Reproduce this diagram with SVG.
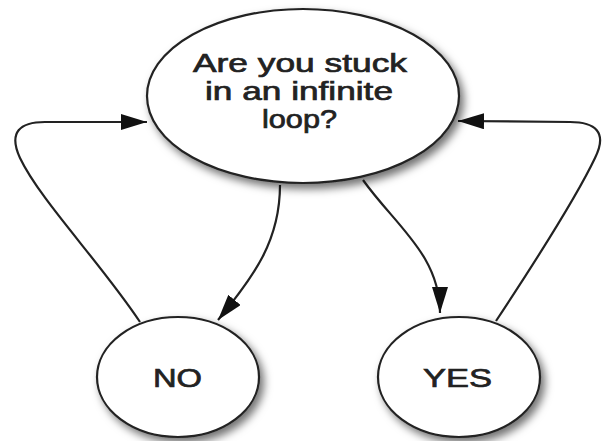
<svg xmlns="http://www.w3.org/2000/svg" width="608" height="441" viewBox="0 0 608 441">
  <defs>
    <filter id="shadow" x="-20%" y="-20%" width="150%" height="150%">
      <feDropShadow dx="4" dy="5" stdDeviation="4" flood-color="#000" flood-opacity="0.55"/>
    </filter>
    <marker id="arrowBig" viewBox="0 0 26 16" refX="26" refY="8" markerWidth="26" markerHeight="16" markerUnits="userSpaceOnUse" orient="auto">
      <path d="M0,0 L26,8 L0,16 Z" fill="#111"/>
    </marker>
  </defs>
  <style>
    .node { fill: #fff; stroke: #222; stroke-width: 2.2; filter: url(#shadow); }
    .label { font-family: "Liberation Sans", Arial, sans-serif; font-size: 26px; fill: #222; stroke: #222; stroke-width: 0.7; text-anchor: start; }
    .edge { fill: none; stroke: #222; stroke-width: 2.2; marker-end: url(#arrowBig); }
  </style>
  <rect width="608" height="441" fill="#fff"/>

  <g id="edges">
    <path class="edge" d="M140,322 C100,262 40,200 20,158 C8,132 20,122 45,122 L147,122"/>
    <path class="edge" d="M280,185 C280,240 255,275 218,320"/>
    <path class="edge" d="M363,180 C395,225 440,255 440,313"/>
    <path class="edge" d="M496,321 C535,262 575,200 595,158 C608,132 595,122 570,122 L458,121"/>
  </g>

  <g id="question">
    <ellipse class="node" cx="303" cy="96" rx="156" ry="87"/>
    <text class="label" x="193" y="72" textLength="214" lengthAdjust="spacingAndGlyphs">Are you stuck</text>
    <text class="label" x="205" y="100" textLength="188" lengthAdjust="spacingAndGlyphs">in an infinite</text>
    <text class="label" x="262" y="128" textLength="75" lengthAdjust="spacingAndGlyphs">loop?</text>
  </g>

  <g id="no">
    <ellipse class="node" cx="178" cy="377" rx="81" ry="60"/>
    <text class="label" x="153" y="387" textLength="49" lengthAdjust="spacingAndGlyphs">NO</text>
  </g>

  <g id="yes">
    <ellipse class="node" cx="459" cy="377" rx="81" ry="60"/>
    <text class="label" x="423" y="387" textLength="69" lengthAdjust="spacingAndGlyphs">YES</text>
  </g>
</svg>
